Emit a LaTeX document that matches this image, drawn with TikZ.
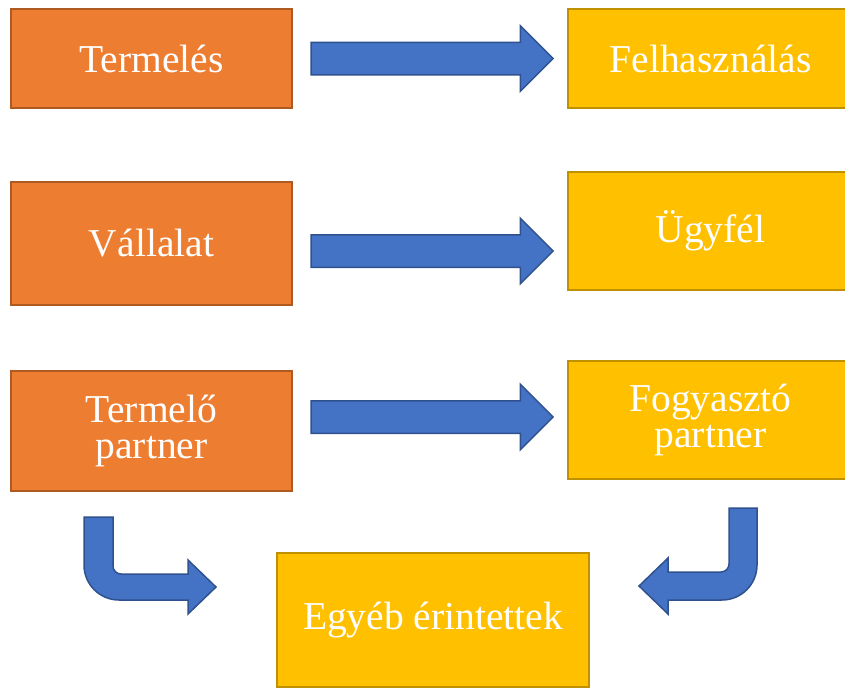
\documentclass[tikz,border=0pt]{standalone}
\usepackage{fontspec}
\setmainfont{Liberation Serif}
\usetikzlibrary{shapes.arrows}

\definecolor{prodorange}{HTML}{ED7D31}
\definecolor{prodedge}{HTML}{AE5A21}
\definecolor{consyellow}{HTML}{FFC000}
\definecolor{consedge}{HTML}{BF9000}
\definecolor{arrowblue}{HTML}{4472C4}
\definecolor{arrowedge}{HTML}{2F528F}

\begin{document}
\begin{tikzpicture}[x=1pt, y=-1pt, every text node part/.style={align=center},
  box/.style={draw, line width=2.5pt, inner sep=0pt, outer sep=0pt, text=white,
    font=\fontsize{39.5}{36.5}\selectfont},
  prod/.style={box, fill=prodorange, draw=prodedge, minimum width=281pt},
  cons/.style={box, fill=consyellow, draw=consedge, minimum width=285pt},
  barrow/.style={single arrow, draw=arrowedge, fill=arrowblue, line width=1.5pt,
    minimum height=242pt, minimum width=64pt, single arrow head extend=16.5pt,
    text height=31pt, text depth=0pt, inner sep=0pt, outer sep=0pt},
  bent/.style={draw=arrowedge, fill=arrowblue, line width=1.5pt, line join=miter}]
\useasboundingbox (0,0) rectangle (845,688);
\node [prod, minimum height=99pt] (termeles) at (151.5,58.5) {Termelés};
\node [prod, minimum height=123pt] (vallalat) at (151.5,243.5) {Vállalat};
\node [prod, minimum height=120pt] (tpartner) at (151.5,431) {Termelő \\ partner};
\node [cons, minimum height=99pt] (felhasz) at (710.5,58.5) {Felhasználás};
\node [cons, minimum height=118pt] (ugyfel) at (710.5,231) {Ügyfél};
\node [cons, minimum height=118pt] (fpartner) at (710.5,420) {Fogyasztó \\ partner};
\node [cons, minimum width=312pt, minimum height=134pt] (egyeb) at (433,620) {Egyéb érintettek};
\node [barrow] (arr1) at (424,58.5) {};
\node [barrow] (arr2) at (424,251) {};
\node [barrow] (arr3) at (424,417) {};
% bent arrows towards the bottom box
\draw [bent] (84,517) -- (113,517) -- (113,566) .. controls (113,570.4) and (116.6,574) .. (121,574)
  -- (188,574) -- (188,560) -- (216,587) -- (188,614) -- (188,600) -- (119,600)
  .. controls (99.7,600) and (84,584.3) .. (84,565) -- cycle;
\draw [bent] (757,508) -- (729,508) -- (729,564) .. controls (729,568.4) and (725.4,572) .. (721,572)
  -- (668,572) -- (668,558) -- (639,586) -- (668,614) -- (668,600) -- (722,600)
  .. controls (741.3,600) and (757,584.3) .. (757,565) -- cycle;
\end{tikzpicture}
\end{document}
